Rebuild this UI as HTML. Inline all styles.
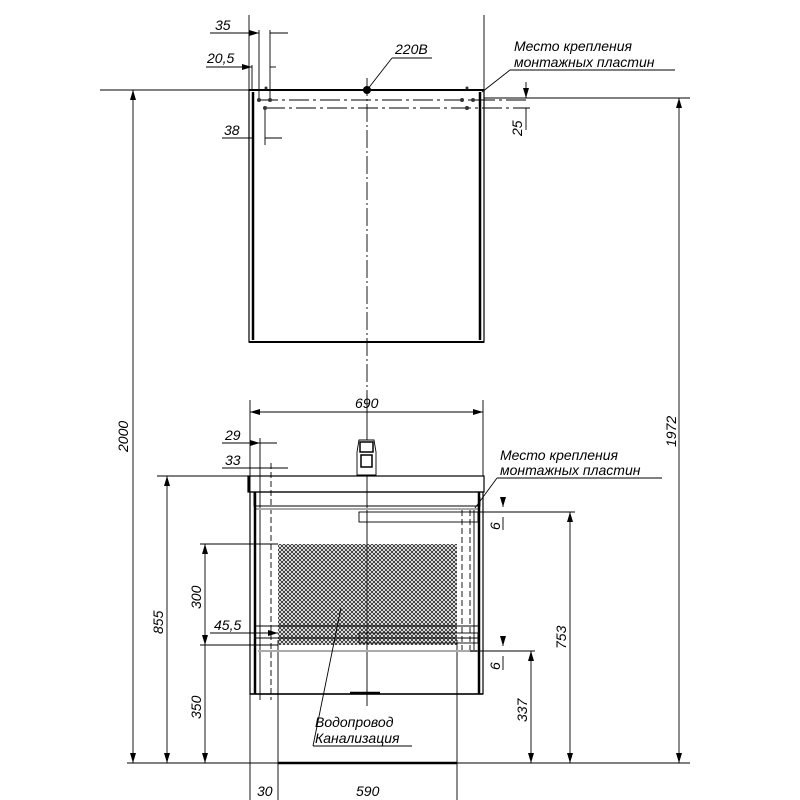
<!DOCTYPE html>
<html><head><meta charset="utf-8"><style>
body{margin:0;background:#fff}
svg{display:block}
text{font-family:"Liberation Sans",sans-serif;font-style:italic;font-size:14px;fill:#000}
</style></head><body>
<svg width="800" height="800" viewBox="0 0 800 800" xmlns="http://www.w3.org/2000/svg">
<defs>
<pattern id="h" width="4" height="4" patternUnits="userSpaceOnUse">
<path d="M0,0L4,4M4,0L0,4" stroke="#222" stroke-width="0.8"/>
</pattern>
<marker id="a" viewBox="0 0 10 6" refX="10" refY="3" markerWidth="10" markerHeight="6" orient="auto-start-reverse" markerUnits="userSpaceOnUse"><path d="M0,0L10,3L0,6Z" fill="#000"/></marker>
</defs>
<g stroke="#000" fill="none" stroke-width="0.9">
<rect x="249" y="90" width="235" height="252" stroke-width="1.2"/>
<line x1="253" y1="92" x2="253" y2="340" stroke-width="2.5"/>
<line x1="480" y1="92" x2="480" y2="340" stroke-width="2.5"/>
<line x1="249" y1="90" x2="484" y2="90" stroke-width="2"/>
<line x1="249" y1="342" x2="484" y2="342" stroke-width="2"/>
<line x1="367" y1="78" x2="367" y2="400" stroke-dasharray="18,3,2,3"/>
<line x1="258" y1="100" x2="530" y2="100" stroke-dasharray="20,4,3,4"/>
<line x1="265" y1="108" x2="530" y2="108" stroke-dasharray="20,4,3,4"/>
<line x1="100" y1="90" x2="249" y2="90"/>
<line x1="484" y1="98" x2="690" y2="98"/>
<line x1="249" y1="15" x2="249" y2="90"/>
<line x1="484" y1="15" x2="484" y2="90"/>
<line x1="259" y1="30" x2="259" y2="100"/>
<line x1="270" y1="30" x2="270" y2="100"/>
<line x1="252" y1="65" x2="252" y2="90"/>
<line x1="265" y1="110" x2="265" y2="145"/>
<line x1="210" y1="33" x2="249" y2="33"/><line x1="249" y1="33" x2="259" y2="33" marker-end="url(#a)"/><line x1="270" y1="33" x2="288" y2="33"/>
<line x1="206" y1="67" x2="242" y2="67"/><line x1="242" y1="67" x2="252" y2="67" marker-end="url(#a)"/><line x1="270" y1="67" x2="276" y2="67"/>
<line x1="222" y1="138" x2="252" y2="138"/><line x1="265" y1="138" x2="282" y2="138"/>
<line x1="526" y1="82" x2="526" y2="98" marker-end="url(#a)"/>
<line x1="526" y1="108" x2="526" y2="130"/>
<line x1="367" y1="90" x2="392" y2="58"/><line x1="392" y1="58" x2="432" y2="58"/>
<line x1="482" y1="92" x2="510" y2="70"/><line x1="510" y1="70" x2="675" y2="70"/>
<line x1="133" y1="90" x2="133" y2="763" marker-start="url(#a)" marker-end="url(#a)"/>
<line x1="679" y1="98" x2="679" y2="763" marker-start="url(#a)" marker-end="url(#a)"/>
<line x1="127" y1="763" x2="690" y2="763"/>
<line x1="278" y1="763" x2="457" y2="763" stroke-width="2.5"/>
<line x1="250" y1="694" x2="250" y2="800"/>
<line x1="278" y1="640" x2="278" y2="800"/>
<line x1="457" y1="640" x2="457" y2="800"/>
<line x1="250" y1="400" x2="250" y2="476"/><line x1="483" y1="400" x2="483" y2="476"/>
<line x1="250" y1="412" x2="483" y2="412" marker-start="url(#a)" marker-end="url(#a)"/>
<line x1="367" y1="395" x2="367" y2="706"/>
<line x1="260" y1="438" x2="260" y2="700"/>
<line x1="271" y1="463" x2="271" y2="700" stroke-dasharray="6,3"/>
<line x1="222" y1="443" x2="250" y2="443"/><line x1="250" y1="443" x2="260" y2="443" marker-end="url(#a)"/><line x1="260" y1="443" x2="277" y2="443"/>
<line x1="222" y1="468" x2="250" y2="468"/><line x1="250" y1="468" x2="271" y2="468"/><line x1="271" y1="468" x2="288" y2="468"/>
<rect x="248" y="476" width="236" height="16" stroke-width="1.2"/>
<line x1="249" y1="476" x2="249" y2="492" stroke-width="3"/>
<path d="M254,492L254,506L480,506L480,497"/>
<line x1="255" y1="509" x2="478" y2="509" stroke="#aaa" stroke-width="2"/>
<rect x="359" y="512" width="119" height="10"/>
<path d="M357,475L357,452L359,440L374,440L376,452L376,475Z" fill="#fff"/>
<rect x="360" y="442" width="13" height="10" stroke-width="1.5"/>
<rect x="361" y="455" width="11" height="12" stroke-width="1.5"/>
<rect x="250" y="492" width="233" height="202" stroke-width="1.2"/>
<line x1="255" y1="492" x2="255" y2="694" stroke-width="2.5"/>
<line x1="479" y1="492" x2="479" y2="694" stroke-width="2.5"/>
<line x1="250" y1="694" x2="483" y2="694" stroke-width="1.5"/>
<line x1="462" y1="510" x2="462" y2="650" stroke-dasharray="6,3"/>
<line x1="470" y1="510" x2="470" y2="650" stroke-dasharray="6,3"/>
<line x1="474" y1="510" x2="474" y2="650"/>
<rect x="278" y="544" width="179" height="101" fill="url(#h)" stroke="none"/>
<line x1="255" y1="626" x2="479" y2="626"/>
<line x1="255" y1="638" x2="479" y2="638"/>
<rect x="359" y="633" width="119" height="10"/>
<line x1="258" y1="651" x2="478" y2="651" stroke="#aaa" stroke-width="2"/>
<line x1="350" y1="693" x2="380" y2="693" stroke-width="2.5"/>
<line x1="157" y1="476" x2="248" y2="476"/>
<line x1="167" y1="476" x2="167" y2="763" marker-start="url(#a)" marker-end="url(#a)"/>
<line x1="200" y1="544" x2="278" y2="544"/>
<line x1="200" y1="645" x2="278" y2="645"/>
<line x1="205" y1="544" x2="205" y2="645" marker-start="url(#a)" marker-end="url(#a)"/>
<line x1="205" y1="645" x2="205" y2="763" marker-end="url(#a)"/>
<line x1="210" y1="633" x2="278" y2="633"/><line x1="268" y1="633" x2="278" y2="633" marker-end="url(#a)"/>
<line x1="470" y1="512" x2="575" y2="512"/>
<line x1="470" y1="651" x2="535" y2="651"/>
<line x1="503" y1="497" x2="503" y2="507" marker-end="url(#a)"/><line x1="503" y1="517" x2="503" y2="530"/>
<line x1="503" y1="636" x2="503" y2="646" marker-end="url(#a)"/><line x1="503" y1="656" x2="503" y2="670"/>
<line x1="570" y1="512" x2="570" y2="763" marker-start="url(#a)" marker-end="url(#a)"/>
<line x1="531" y1="651" x2="531" y2="763" marker-start="url(#a)" marker-end="url(#a)"/>
<line x1="475" y1="508" x2="497" y2="478"/><line x1="497" y1="478" x2="662" y2="478"/>
<line x1="341" y1="608" x2="313" y2="746"/><line x1="313" y1="746" x2="412" y2="746"/>
</g>
<circle cx="367" cy="90" r="4"/>
<g fill="#333"><circle cx="259" cy="100" r="2"/><circle cx="270" cy="100" r="2"/><circle cx="265" cy="108" r="2"/><circle cx="462" cy="100" r="2"/><circle cx="473" cy="100" r="2"/><circle cx="467" cy="108" r="2"/><circle cx="266" cy="88" r="1.5"/><circle cx="467" cy="88" r="1.5"/></g>
<text x="215" y="30">35</text>
<text x="207" y="63">20,5</text>
<text x="224" y="135">38</text>
<text x="395" y="54">220В</text>
<text x="514" y="51">Место крепления</text>
<text x="514" y="67">монтажных пластин</text>
<text x="355" y="408">690</text>
<text x="225" y="440">29</text>
<text x="225" y="465">33</text>
<text x="500" y="460">Место крепления</text>
<text x="500" y="475">монтажных пластин</text>
<text x="214" y="630">45,5</text>
<text x="315" y="727">Водопровод</text>
<text x="315" y="743">Канализация</text>
<text transform="translate(128,452) rotate(-90)">2000</text>
<text transform="translate(163,634) rotate(-90)">855</text>
<text transform="translate(201,609) rotate(-90)">300</text>
<text transform="translate(201,719) rotate(-90)">350</text>
<text transform="translate(522,136) rotate(-90)">25</text>
<text transform="translate(500,530) rotate(-90)">6</text>
<text transform="translate(500,670) rotate(-90)">6</text>
<text transform="translate(527,722) rotate(-90)">337</text>
<text transform="translate(566,649) rotate(-90)">753</text>
<text transform="translate(676,447) rotate(-90)">1972</text>
<text x="257" y="796">30</text>
<text x="356" y="796">590</text>
</svg>
</body></html>
